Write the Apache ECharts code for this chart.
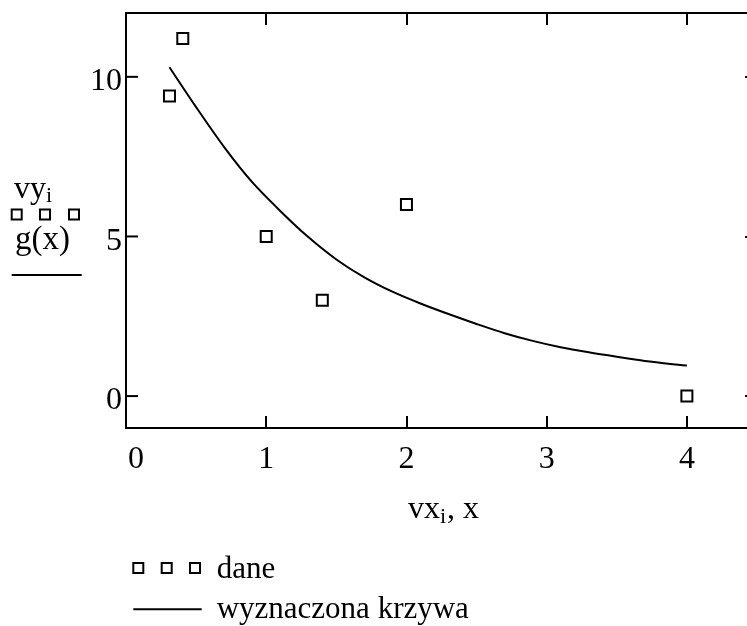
<!DOCTYPE html>
<html>
<head>
<meta charset="utf-8">
<script src="https://cdn.jsdelivr.net/npm/echarts@6/dist/echarts.min.js"></script>
<style>
  html, body { margin: 0; padding: 0; background: #fff; }
  #chart { width: 747px; height: 626px; }
</style>
</head>
<body>
<div id="chart"></div>
<script>
// punkty pomiarowe
var vx = [0.31, 0.405, 1.0, 1.4, 2.0, 4.0]
var vy = [9.4, 11.2, 5.0, 3.0, 6.0, 0.0]
// krzywa
var gx = [0.31, 0.5, 0.7, 0.9, 1.1, 1.3, 1.5, 1.7, 1.9, 2.1, 2.3, 2.5, 2.7, 2.9, 3.1, 3.3, 3.5, 3.7, 3.9, 4.0]
var gy = [10.3, 9.05, 7.8, 6.7, 5.8, 4.98, 4.28, 3.72, 3.27, 2.9, 2.57, 2.26, 1.97, 1.73, 1.53, 1.37, 1.23, 1.1, 1.0, 0.96]
// podziałki
var xTicks = [0, 1, 2, 3, 4]
var yTicks = [0, 5, 10]

var FONT = 'Liberation Serif'
var fs = 32

var pts = vx.map(function (v, i) { return [v, vy[i]] })
var line = gx.map(function (v, i) { return [v, gy[i]] })

function tickAxis (pos, vals, isX) {
  return {
    type: 'value',
    position: pos,
    min: isX ? 0 : -1,
    max: isX ? 4.5 : 12,
    splitLine: { show: false },
    axisLine: { show: false, onZero: false },
    axisTick: { show: true, inside: true, length: 12, customValues: vals, lineStyle: { color: '#000', width: 2 } },
    axisLabel: { show: false }
  }
}

var xMain = tickAxis('bottom', xTicks, true)
xMain.axisLabel = {
  show: true,
  customValues: xTicks,
  margin: 16,
  color: '#000',
  fontFamily: FONT,
  fontSize: fs,
  formatter: function (v) {
    return v === 0 ? '{f|0}' : String(v)
  },
  rich: {
    f: { padding: [0, 0, 0, 20], color: '#000', fontFamily: FONT, fontSize: fs }
  }
}
var yMain = tickAxis('left', yTicks, false)
// kreski po lewej rysuje seria custom niżej
yMain.axisTick.show = false
yMain.axisLabel = {
  show: true,
  customValues: yTicks,
  margin: 4,
  color: '#000',
  fontFamily: FONT,
  fontSize: fs,
  formatter: function (v) { return '{d|' + v + '}' },
  rich: {
    d: { padding: [10, 0, 0, 0], color: '#000', fontFamily: FONT, fontSize: fs }
  }
}

var txt = function (x, y, s, size) {
  return {
    type: 'text', left: x, top: y,
    style: { text: s, fill: '#000', font: size + 'px "' + FONT + '"' }
  }
}
var sq = function (cx, cy, a) {
  return {
    type: 'rect',
    shape: { x: cx - a / 2, y: cy - a / 2, width: a, height: a },
    style: { fill: '#fff', stroke: '#000', lineWidth: 2 }
  }
}
var hl = function (x1, x2, y) {
  return {
    type: 'line',
    shape: { x1: x1, y1: y, x2: x2, y2: y },
    style: { stroke: '#000', lineWidth: 2 }
  }
}

var option = {
  animation: false,
  grid: {
    left: 126,
    top: 13,
    width: 631,
    height: 415,
    show: true,
    borderColor: '#000',
    borderWidth: 2,
    containLabel: false,
    outerBoundsMode: 'none'
  },
  xAxis: [xMain, tickAxis('top', xTicks, true)],
  yAxis: [yMain, tickAxis('right', yTicks, false)],
  series: [
    {
      type: 'line',
      data: line,
      smooth: 0.3,
      showSymbol: false,
      lineStyle: { color: '#000', width: 2 },
      z: 2
    },
    {
      type: 'scatter',
      data: pts,
      symbol: 'rect',
      symbolSize: 11,
      itemStyle: { color: '#fff', borderColor: '#000', borderWidth: 2, opacity: 1 },
      z: 3
    },
    {
      // kreski podziałki na lewej krawędzi
      type: 'custom',
      silent: true,
      data: yTicks.map(function (v) { return [0, v] }),
      renderItem: function (params, api) {
        var p = api.coord([api.value(0), api.value(1)])
        return {
          type: 'line',
          shape: { x1: p[0], y1: p[1], x2: p[0] + 12, y2: p[1] },
          style: { stroke: '#000', lineWidth: 2 }
        }
      },
      z: 4
    }
  ],
  graphic: [
    // opis osi x
    txt(408, 494, 'vx', fs),
    txt(440, 506, 'i', 22),
    txt(447, 494, ', x', fs),
    // opis osi y
    txt(14, 174, 'vy', fs),
    txt(46, 185, 'i', 22),
    sq(16.7, 214.5, 10), sq(45, 214.5, 10), sq(74, 214.5, 10),
    txt(15, 224, 'g(x)', 33),
    hl(11.7, 81.7, 275),
    // legenda
    sq(138.3, 568, 10), sq(166.7, 568, 10), sq(195, 568, 10),
    txt(216.7, 554, 'dane', 31),
    hl(133.3, 201.7, 609.3),
    txt(216.7, 594, 'wyznaczona krzywa', 31)
  ]
}

var myChart = echarts.init(document.getElementById('chart'), null, { renderer: 'canvas' })
myChart.setOption(option)
</script>
</body>
</html>
